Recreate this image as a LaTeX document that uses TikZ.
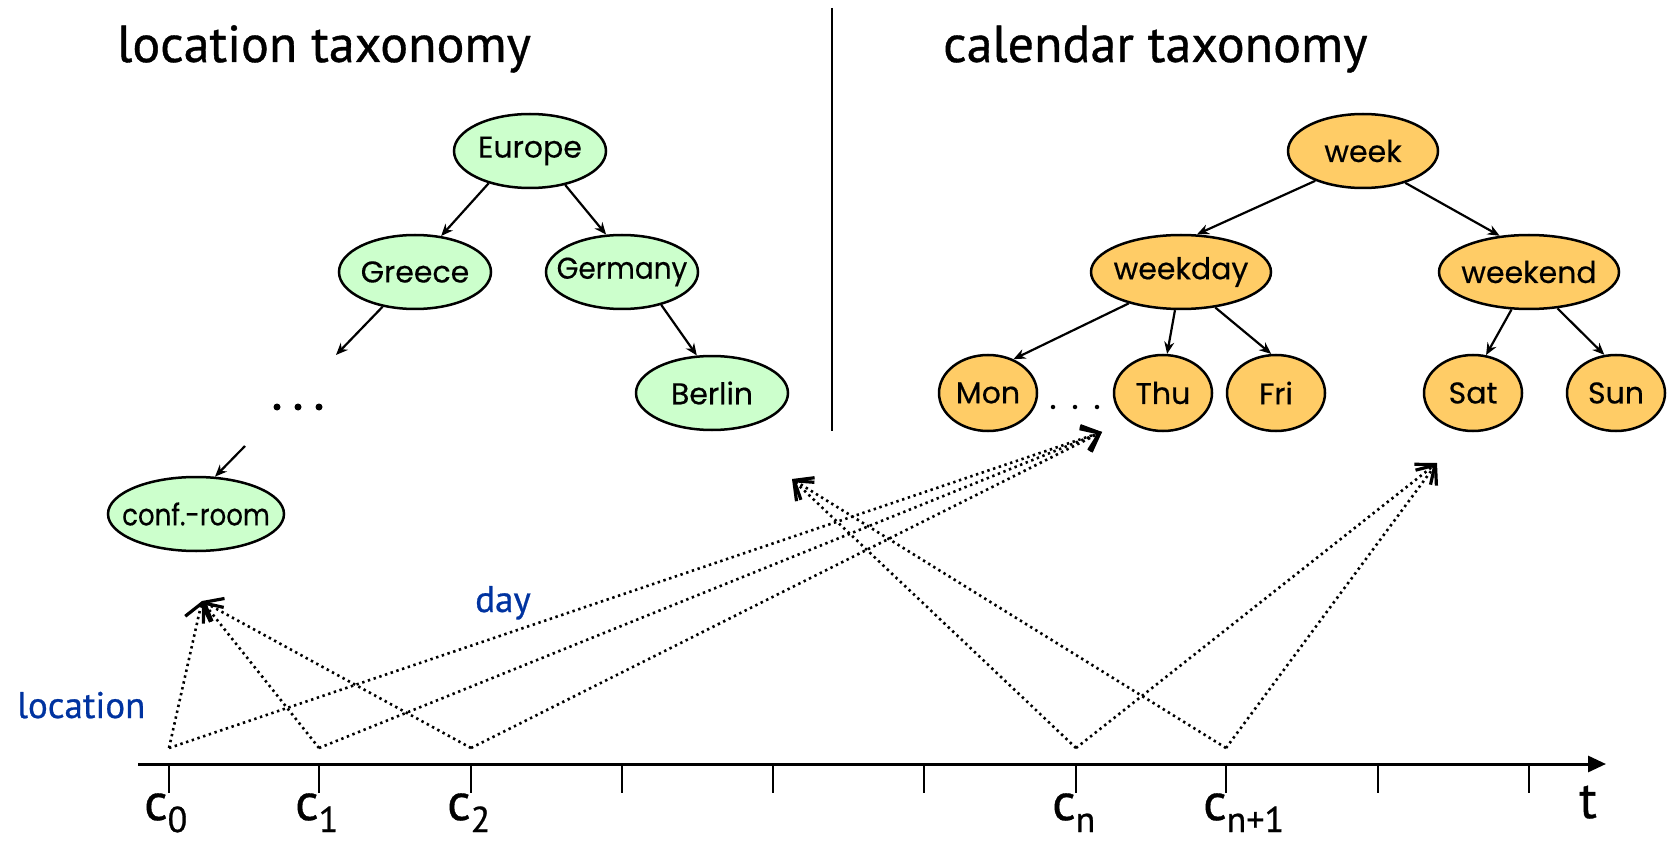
\documentclass[tikz,border=0pt]{standalone}
\usepackage{fontspec}
\setmainfont{PT Sans}[FakeBold=0.7]
\newfontfamily\nodefont{Poppins}[FakeBold=0.4]
\usetikzlibrary{shapes.geometric,arrows.meta}
\definecolor{lgreen}{HTML}{CCFFCC}
\definecolor{lorange}{HTML}{FFCC66}
\definecolor{lblue}{HTML}{0033A0}
\newcommand\subtx[1]{\raisebox{-12pt}{\fontsize{36}{36}\selectfont #1}}
\newcommand\ntx[2][1]{\makebox[0pt]{\scalebox{#1}[1]{#2}}}
\begin{document}
\begin{tikzpicture}[x=1pt,y=-1pt,
  base/.style={ellipse, draw, line width=2.5pt, inner sep=0pt, minimum height=74pt, font=\nodefont\fontsize{30}{30}\selectfont},
  gnode/.style={base, fill=lgreen, minimum width=152pt},
  onode/.style={base, fill=lorange, minimum width=180pt},
  dnode/.style={base, fill=lorange, minimum width=98pt, minimum height=76pt},
  tedge/.style={line width=2.2pt, -{Stealth[length=12pt,width=10pt]}},
  dedge/.style={line width=2.6pt, dash pattern=on 2.4pt off 3.6pt, -{Straight Barb[length=16pt,width=26pt,line width=3.2pt]}},
  title/.style={font=\fontsize{52}{52}\selectfont, anchor=base west, inner sep=0pt},
  axlab/.style={font=\fontsize{52}{52}\selectfont, anchor=base west, inner sep=0pt},
  blab/.style={font=\fontsize{37}{37}\selectfont, text=lblue, anchor=base west, inner sep=0pt},
  tick/.style={line width=2.5pt},
  dot/.style={circle, fill, inner sep=0pt}
]
\useasboundingbox (0,0) rectangle (1668,842);

% titles and divider
\node[title] (lt) at (117,62) {location taxonomy};
\node[title] (ct) at (943,62) {calendar taxonomy};
\coordinate (dtop) at (832,8);
\coordinate (dbot) at (832,431);
\draw[line width=2.5pt] (dtop) -- (dbot);

% location tree
\node[gnode] (europe) at (530,151) {\ntx{Europe}};
\node[gnode] (greece) at (415,272) {\ntx{Greece}};
\node[gnode] (germany) at (622,272) {\ntx[0.93]{Germany}};
\node[gnode] (berlin) at (712,393) {\ntx{Berlin}};
\node[gnode, minimum width=176pt] (conf) at (196,514) {\ntx[0.87]{conf.-room}};
\node[dot, minimum size=7pt] (ld1) at (277,407) {};
\node[dot, minimum size=7pt] (ld2) at (298,407) {};
\node[dot, minimum size=7pt] (ld3) at (319,407) {};
\coordinate (gdots) at (336,355);
\coordinate (dotsc) at (245,446);

\draw[tedge] (europe.218) -- (greece.54);
\draw[tedge] (europe.316) -- (germany.113);
\draw[tedge] (greece.227) -- (gdots);
\draw[tedge] (germany.320) -- (berlin.112);
\draw[tedge] (dotsc) -- (conf.63);

% calendar tree
\node[onode, minimum width=150pt] (week) at (1363,151) {\ntx{week}};
\node[onode] (weekday) at (1181,272) {\ntx{weekday}};
\node[onode] (weekend) at (1529,272) {\ntx{weekend}};
\node[dnode] (mon) at (988,393) {\ntx{Mon}};
\node[dnode] (thu) at (1163,393) {\ntx{Thu}};
\node[dnode] (fri) at (1276,393) {\ntx{Fri}};
\node[dnode] (sat) at (1473,393) {\ntx{Sat}};
\node[dnode] (sun) at (1616,393) {\ntx{Sun}};
\node[dot, minimum size=4.5pt] (rd1) at (1053,407) {};
\node[dot, minimum size=4.5pt] (rd2) at (1075,407) {};
\node[dot, minimum size=4.5pt] (rd3) at (1097,407) {};

\draw[tedge] (week.212) -- (weekday.67);
\draw[tedge] (week.323) -- (weekend.129);
\draw[tedge] (weekday.211) -- (mon.53);
\draw[tedge] (weekday.261) -- (thu.84);
\draw[tedge] (weekday.314) -- (fri.97);
\draw[tedge] (weekend.245) -- (sat.71);
\draw[tedge] (weekend.308) -- (sun.107);

% time axis
\coordinate (axs) at (138,764);
\coordinate (axe) at (1606,764);
\draw[line width=3pt, -{Triangle[length=18pt,width=16pt]}] (axs) -- (axe);
\foreach \i/\x in {0/169,1/319,2/471,3/622,4/773,5/924,6/1076,7/1226,8/1378,9/1529}{
  \coordinate (t\i) at (\x,764);
  \coordinate (b\i) at (\x,793);
  \draw[tick] (t\i) -- (b\i);
}
\node[axlab] (c0) at (144,820) {c\subtx{0}};
\node[axlab] (c1) at (295,820) {c\subtx{1}};
\node[axlab] (c2) at (447,820) {c\subtx{2}};
\node[axlab] (cn) at (1052,820) {c\subtx{n}};
\node[axlab] (cn1) at (1203,820) {c\subtx{n+1}};
\node[axlab] (tl) at (1579,818) {t};

% context points
\coordinate (p0) at (169,748);
\coordinate (p1) at (319,748);
\coordinate (p2) at (471,748);
\coordinate (pn) at (1076,748);
\coordinate (pn1) at (1226,748);
\coordinate (loctip) at (202,601);
\coordinate (thutip) at (1102,432);
\coordinate (midtip) at (792,479);
\coordinate (sattip) at (1437,463);

\draw[dedge] (p0) -- (loctip);
\draw[dedge] (p1) -- (loctip);
\draw[dedge] (p2) -- (loctip);
\draw[dedge] (p0) -- (thutip);
\draw[dedge] (p1) -- (thutip);
\draw[dedge] (p2) -- (thutip);
\draw[dedge] (pn) -- (midtip);
\draw[dedge] (pn1) -- (midtip);
\draw[dedge] (pn) -- (sattip);
\draw[dedge] (pn1) -- (sattip);

\node[blab] (locl) at (17,718) {location};
\node[blab] (dayl) at (475,612) {day};
\end{tikzpicture}
\end{document}
